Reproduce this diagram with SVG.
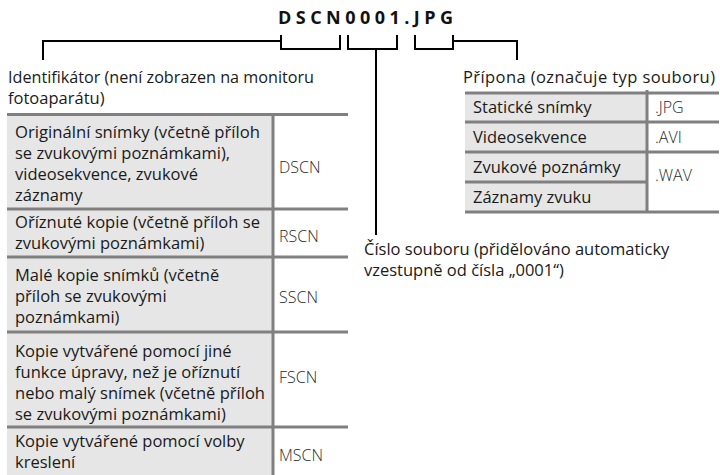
<svg xmlns="http://www.w3.org/2000/svg" width="720" height="475" viewBox="0 0 720 475">
<style>
.t{font-family:"Open Sans","Noto Sans","DejaVu Sans",sans-serif;font-size:16.5px;fill:#1a1a1a}
.c{font-family:"Open Sans","Noto Sans","DejaVu Sans",sans-serif;font-size:16px;fill:#2a2a2a;font-weight:300}
.title{font-family:"Open Sans","Noto Sans","DejaVu Sans",sans-serif;font-size:18px;font-weight:700;fill:#111}
.ln{fill:none;stroke:#000;stroke-width:2}
.bd{stroke:#808080;stroke-width:3;fill:none}
.cell{fill:#e6e6e6}
</style>
<rect width="720" height="475" fill="#fff"/>
<text class="title" x="278" y="24" textLength="175" lengthAdjust="spacing">DSCN0001.JPG</text>
<g id="connectors">
<path class="ln" d="M43,60 V41 H281"/>
<path class="ln" d="M281,35 V49 H340 V35"/>
<path class="ln" d="M348,35 V49 H397 V35"/>
<path class="ln" d="M376,49 V235"/>
<path class="ln" d="M415,35 V49 H453 V35"/>
<path class="ln" d="M453,41 H517 V60"/>
</g>
<g id="identifier-label">
<text class="t" x="8" y="83" textLength="306" lengthAdjust="spacingAndGlyphs">Identifikátor (není zobrazen na monitoru</text>
<text class="t" x="8" y="104">fotoaparátu)</text>
</g>
<g id="extension-label">
<text class="t" x="463" y="83" textLength="252" lengthAdjust="spacing">Přípona (označuje typ souboru)</text>
</g>
<g id="number-label">
<text class="t" x="364" y="255">Číslo souboru (přidělováno automaticky</text>
<text class="t" x="364" y="276">vzestupně od čísla „0001“)</text>
</g>
<g id="identifier-table">
<rect class="cell" x="7" y="113" width="266" height="362"/>
<path class="bd" d="M7,114.5 H348 M7,209 H348 M7,257 H348 M7,332 H348 M7,427 H348 M273,113 V475"/>
<text class="t" x="15" y="138" textLength="245" lengthAdjust="spacingAndGlyphs">Originální snímky (včetně příloh</text>
<text class="t" x="15" y="159">se zvukovými poznámkami),</text>
<text class="t" x="15" y="180">videosekvence, zvukové</text>
<text class="t" x="15" y="201">záznamy</text>
<text class="c" x="279" y="173">DSCN</text>
<text class="t" x="15" y="228" textLength="245" lengthAdjust="spacingAndGlyphs">Oříznuté kopie (včetně příloh se</text>
<text class="t" x="15" y="249">zvukovými poznámkami)</text>
<text class="c" x="279" y="242">RSCN</text>
<text class="t" x="15" y="281">Malé kopie snímků (včetně</text>
<text class="t" x="15" y="302">příloh se zvukovými</text>
<text class="t" x="15" y="323">poznámkami)</text>
<text class="c" x="279" y="303">SSCN</text>
<text class="t" x="15" y="357">Kopie vytvářené pomocí jiné</text>
<text class="t" x="15" y="378">funkce úpravy, než je oříznutí</text>
<text class="t" x="15" y="399" textLength="250" lengthAdjust="spacingAndGlyphs">nebo malý snímek (včetně příloh</text>
<text class="t" x="15" y="420">se zvukovými poznámkami)</text>
<text class="c" x="279" y="383">FSCN</text>
<text class="t" x="15" y="447">Kopie vytvářené pomocí volby</text>
<text class="t" x="15" y="468">kreslení</text>
<text class="c" x="279" y="461">MSCN</text>
</g>
<g id="extension-table">
<rect class="cell" x="465" y="92" width="182" height="120"/>
<path class="bd" d="M465,93 H719 M465,122 H719 M465,152 H719 M465,182 H647 M465,212 H719 M647,90 V212"/>
<text class="t" x="473" y="113">Statické snímky</text>
<text class="c" x="655" y="113">.JPG</text>
<text class="t" x="473" y="143">Videosekvence</text>
<text class="c" x="655" y="143">.AVI</text>
<text class="t" x="473" y="173">Zvukové poznámky</text>
<text class="t" x="473" y="203">Záznamy zvuku</text>
<text class="c" x="655" y="181">.WAV</text>
</g>
</svg>
